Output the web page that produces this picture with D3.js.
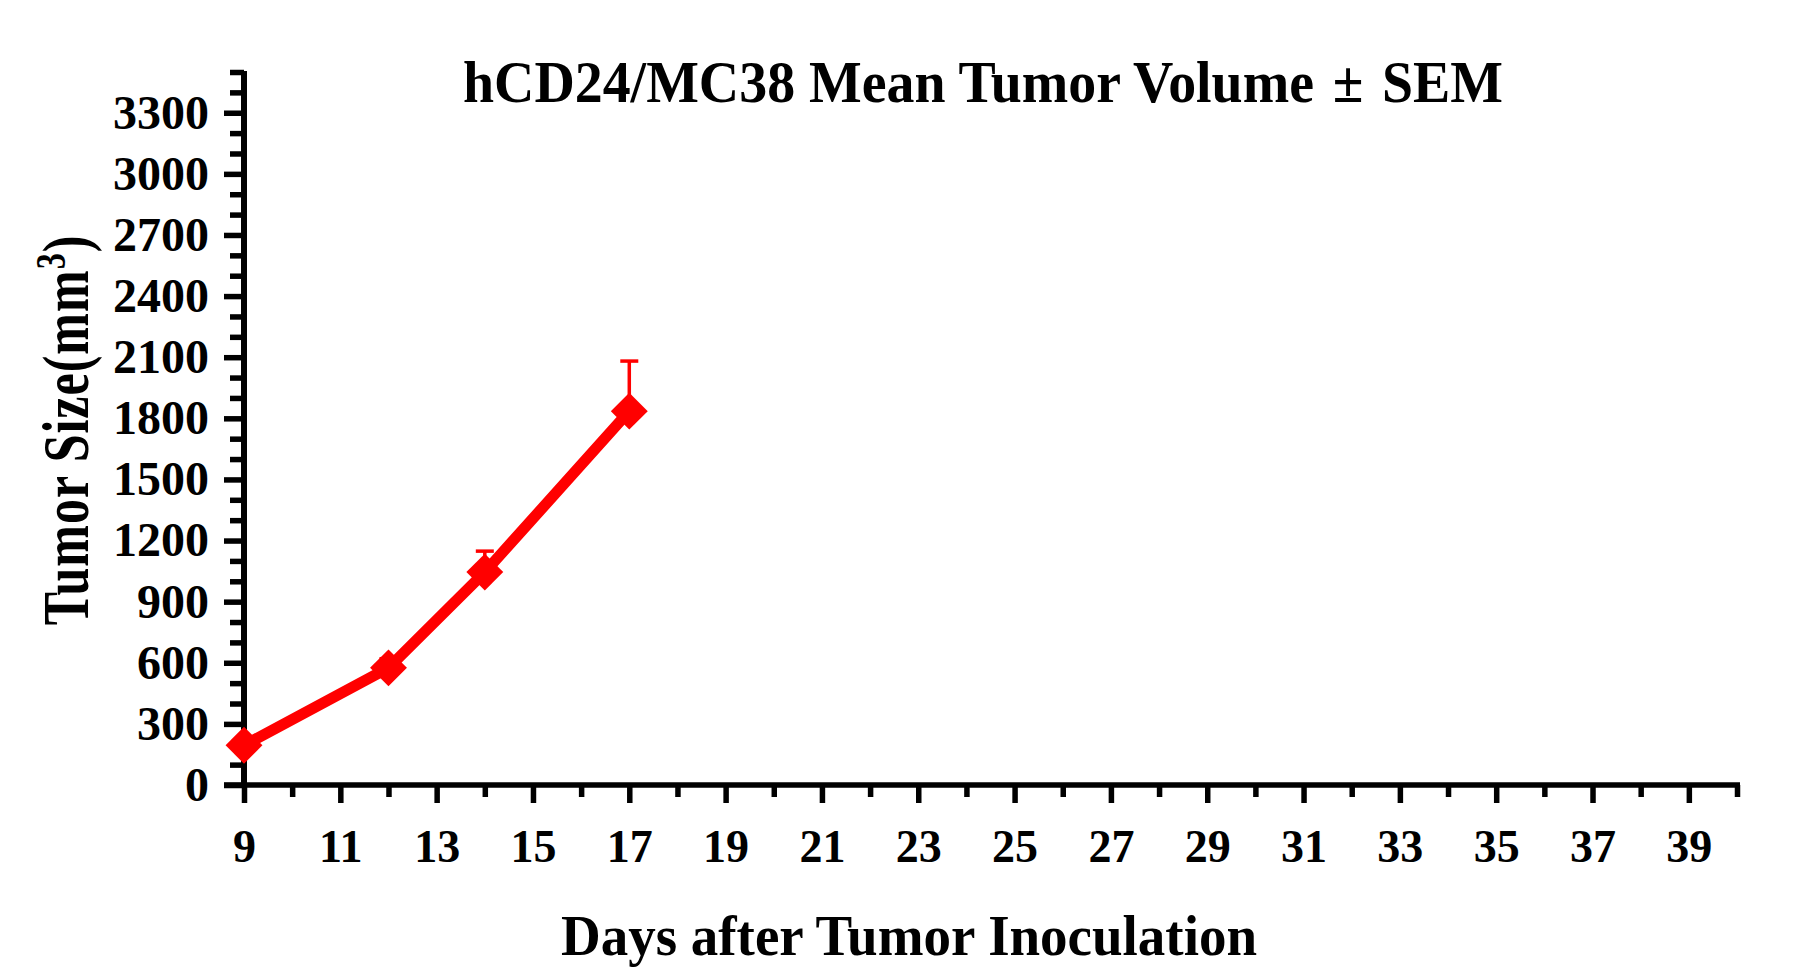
<!DOCTYPE html>
<html>
<head>
<meta charset="utf-8">
<script src="https://cdn.jsdelivr.net/npm/d3@7"></script>
<style>
  body { margin: 0; background: #fff; }
  svg text { font-family: "Liberation Serif", "Times New Roman", serif; font-weight: bold; fill: #000; }
  .axis path, .axis line { stroke: #000; }
</style>
</head>
<body>
<svg id="chart" width="1802" height="978"></svg>
<script>
// data
const days = [9, 12, 14, 17];
const meanVolume = [195, 575, 1045, 1835];
const semVolume = [30, 45, 103, 246];

const xMajorTicks = [9, 11, 13, 15, 17, 19, 21, 23, 25, 27, 29, 31, 33, 35, 37, 39];
const yMajorTicks = [0, 300, 600, 900, 1200, 1500, 1800, 2100, 2400, 2700, 3000, 3300];

const titleText = "hCD24/MC38 Mean Tumor Volume \u200A\u00B1\u200A SEM";
const xLabelText = "Days after Tumor Inoculation";

const svg = d3.select("#chart");

const x = d3.scaleLinear().domain([9, 40]).range([244, 1737]);
const y = d3.scaleLinear().domain([0, 3500]).range([785, 72]);

const xMinorTicks = d3.range(10, 41, 2);
const yMinorTicks = d3.range(0, 3501, 100).filter(v => v % 300 !== 0);

// x axis: minor ticks first, then major ticks + domain line
svg.append("g")
    .attr("class", "axis")
    .attr("transform", `translate(0,${y(0)})`)
    .call(d3.axisBottom(x).tickValues(xMinorTicks).tickSize(12).tickSizeOuter(0).tickFormat(""))
    .call(g => g.select(".domain").remove())
    .call(g => g.selectAll("line").attr("stroke-width", 5.5));

svg.append("g")
    .attr("class", "axis")
    .attr("transform", `translate(0,${y(0)})`)
    .call(d3.axisBottom(x).tickValues(xMajorTicks).tickSize(18).tickSizeOuter(0).tickPadding(26))
    .call(g => g.select(".domain").attr("stroke-width", 5.5).attr("d", `M${x(9) - 20},0H${x(40) + 3}`))
    .call(g => g.selectAll("line").attr("stroke-width", 5.5))
    .call(g => g.selectAll("text").attr("font-size", 46).attr("dy", "0.71em"));

// y axis
svg.append("g")
    .attr("class", "axis")
    .attr("transform", `translate(${x(9)},0)`)
    .call(d3.axisLeft(y).tickValues(yMinorTicks).tickSize(14).tickSizeOuter(0).tickFormat(""))
    .call(g => g.select(".domain").remove())
    .call(g => g.selectAll("line").attr("stroke-width", 5.5));

svg.append("g")
    .attr("class", "axis")
    .attr("transform", `translate(${x(9)},0)`)
    .call(d3.axisLeft(y).tickValues(yMajorTicks).tickSize(20).tickSizeOuter(0).tickPadding(15).tickFormat(d3.format("d")))
    .call(g => g.select(".domain").attr("stroke-width", 6).attr("d", `M0,${y(0) + 3}V${y(3500) - 1}`))
    .call(g => g.selectAll("line").attr("stroke-width", 5.5))
    .call(g => g.selectAll("text").attr("font-size", 48));

// series
const points = days.map((d, i) => ({ day: d, mean: meanVolume[i], sem: semVolume[i] }));
const red = "#ff0000";

const err = svg.append("g").attr("stroke", red).attr("stroke-width", 3.5);
err.selectAll("line.bar")
    .data(points)
    .join("line")
    .attr("class", "bar")
    .attr("x1", d => x(d.day)).attr("x2", d => x(d.day))
    .attr("y1", d => y(d.mean)).attr("y2", d => y(d.mean + d.sem));
err.selectAll("line.cap")
    .data(points)
    .join("line")
    .attr("class", "cap")
    .attr("x1", d => x(d.day) - 9).attr("x2", d => x(d.day) + 9)
    .attr("y1", d => y(d.mean + d.sem)).attr("y2", d => y(d.mean + d.sem));

const line = d3.line().x(d => x(d.day)).y(d => y(d.mean));
svg.append("path")
    .datum(points)
    .attr("fill", "none")
    .attr("stroke", red)
    .attr("stroke-width", 11)
    .attr("stroke-linejoin", "round")
    .attr("d", line);

const diamond = d3.symbol().type(d3.symbolSquare).size(680);
svg.append("g")
    .selectAll("path")
    .data(points)
    .join("path")
    .attr("fill", red)
    .attr("transform", d => `translate(${x(d.day)},${y(d.mean)}) rotate(45)`)
    .attr("d", diamond);

// titles
svg.append("text")
    .attr("x", 983)
    .attr("y", 102)
    .attr("text-anchor", "middle")
    .attr("font-size", 60)
    .attr("textLength", 1040)
    .attr("lengthAdjust", "spacingAndGlyphs")
    .text(titleText);

svg.append("text")
    .attr("x", 909)
    .attr("y", 955)
    .attr("text-anchor", "middle")
    .attr("font-size", 58)
    .attr("textLength", 696)
    .attr("lengthAdjust", "spacingAndGlyphs")
    .text(xLabelText);

const yLabel = svg.append("text")
    .attr("transform", "translate(88,430) rotate(-90) scale(1,1.3)")
    .attr("text-anchor", "middle")
    .attr("font-size", 50)
    .attr("letter-spacing", 1);
yLabel.append("tspan").text("Tumor Size(mm");
yLabel.append("tspan").attr("font-size", 32).attr("dy", -18).text("3");
yLabel.append("tspan").attr("dy", 18).text(")");
</script>
</body>
</html>
